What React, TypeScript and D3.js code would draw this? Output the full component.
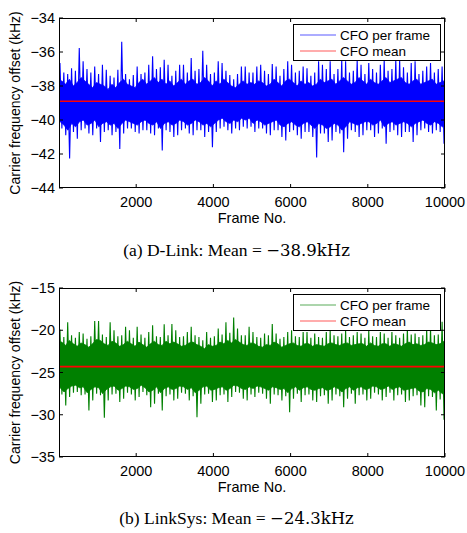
import React from "react";
import * as d3 from "d3";

// ---------- data ----------
// 100 bins of 100 frames each over 0..10000
const binWidth = 100;

// D-Link: per-bin upper / lower extremes (kHz)
const dlinkUpper = [
  -36.65, -37.2, -37.3, -36.95, -37.1, -35.76, -36.55, -37.0, -37.2, -36.85,
  -37.3, -36.75, -37.05, -37.4, -37.5, -37.05, -35.4, -37.3, -37.6, -37.35,
  -36.85, -37.3, -37.2, -36.75, -36.25, -37.0, -36.9, -36.45, -36.75, -37.4,
  -37.1, -36.75, -36.75, -37.2, -36.35, -37.1, -37.0, -35.92, -36.75, -37.3,
  -37.2, -36.55, -36.65, -37.1, -37.35, -37.6, -37.3, -36.85, -36.85, -37.2,
  -37.2, -36.85, -36.75, -37.1, -37.3, -36.7, -36.85, -37.4, -37.0, -36.55,
  -36.75, -37.2, -37.1, -36.85, -36.95, -37.4, -37.2, -36.55, -36.75, -37.0,
  -36.55, -37.3, -37.0, -36.45, -36.55, -37.2, -37.1, -36.45, -36.75, -37.3,
  -36.65, -37.0, -37.2, -36.75, -36.45, -37.1, -37.0, -36.45, -36.45, -36.9,
  -37.2, -36.65, -36.55, -37.3, -37.1, -36.85, -36.65, -37.2, -37.0, -36.85,
];
const dlinkLower = [
  -40.5, -40.9, -42.26, -40.7, -41.1, -40.6, -40.5, -40.8, -40.9, -40.5,
  -41.3, -40.7, -40.6, -40.9, -40.7, -41.7, -40.8, -40.5, -40.5, -40.7,
  -40.8, -40.6, -40.6, -40.8, -40.9, -40.5, -41.8, -40.6, -40.7, -41.0,
  -40.9, -40.6, -40.5, -40.8, -40.9, -40.6, -40.6, -41.0, -40.7, -41.6,
  -40.7, -40.5, -40.4, -40.6, -40.8, -40.5, -40.6, -40.4, -40.5, -40.4,
  -40.7, -40.5, -40.5, -40.8, -40.9, -40.6, -40.6, -41.0, -41.2, -40.7,
  -40.6, -40.9, -41.1, -40.7, -40.7, -41.0, -42.2, -40.8, -40.8, -41.3,
  -41.2, -40.7, -40.8, -41.9, -41.1, -40.6, -40.7, -41.0, -40.9, -40.6,
  -40.6, -41.0, -40.8, -40.5, -41.4, -40.7, -40.6, -40.9, -41.0, -40.7,
  -40.7, -41.3, -40.9, -40.6, -40.5, -40.7, -40.8, -40.6, -40.7, -41.4,
];
// D-Link: per-bin edges of the dense band (kHz)
const dlinkDenseTop = [
  -37.7, -37.9, -37.6, -38.0, -37.8, -37.5, -37.7, -37.9, -38.1, -37.8,
  -37.9, -38.0, -38.2, -37.9, -38.1, -37.8, -37.6, -37.9, -38.0, -38.1,
  -37.8, -37.6, -37.9, -37.7, -37.5, -37.8, -37.6, -37.9, -37.7, -38.0,
  -37.8, -37.6, -37.9, -37.7, -37.6, -37.9, -37.8, -37.5, -37.7, -38.0,
  -37.7, -37.9, -37.6, -37.8, -38.0, -38.1, -37.9, -37.7, -37.9, -37.8,
  -37.9, -37.7, -37.8, -38.0, -37.9, -37.6, -37.8, -38.0, -37.7, -37.6,
  -37.8, -38.0, -37.7, -37.9, -37.8, -38.0, -37.9, -37.6, -37.8, -37.7,
  -37.6, -37.9, -37.7, -37.5, -37.7, -37.9, -37.8, -37.5, -37.7, -37.9,
  -37.6, -37.8, -37.9, -37.7, -37.5, -37.8, -37.7, -37.6, -37.5, -37.8,
  -37.9, -37.7, -37.6, -37.9, -37.8, -37.7, -37.6, -37.9, -37.8, -37.7,
];
const dlinkDenseBottom = [
  -40.1, -40.3, -40.6, -40.2, -40.4, -40.1, -40.0, -40.3, -40.2, -40.0,
  -40.4, -40.2, -40.1, -40.3, -40.2, -40.5, -40.2, -40.0, -40.1, -40.2,
  -40.3, -40.1, -40.0, -40.2, -40.3, -40.1, -40.5, -40.2, -40.1, -40.3,
  -40.2, -40.0, -40.1, -40.3, -40.2, -40.0, -40.1, -40.3, -40.2, -40.4,
  -40.2, -40.0, -39.9, -40.1, -40.2, -40.0, -40.1, -39.9, -40.0, -39.9,
  -40.2, -40.0, -40.1, -40.3, -40.2, -40.1, -40.0, -40.3, -40.4, -40.2,
  -40.1, -40.3, -40.4, -40.2, -40.1, -40.3, -40.5, -40.2, -40.3, -40.5,
  -40.4, -40.2, -40.3, -40.6, -40.4, -40.1, -40.2, -40.3, -40.2, -40.1,
  -40.1, -40.3, -40.2, -40.0, -40.4, -40.2, -40.1, -40.3, -40.2, -40.1,
  -40.2, -40.4, -40.2, -40.1, -40.0, -40.2, -40.3, -40.1, -40.2, -40.4,
];
const dlinkMean = -38.9;

// LinkSys: per-bin upper / lower extremes (kHz)
const linksysUpper = [
  -19.9, -20.8, -19.06, -20.6, -20.9, -20.2, -20.4, -21.0, -20.7, -18.9,
  -18.9, -20.5, -20.8, -19.05, -20.0, -20.7, -20.6, -19.6, -20.0, -20.9,
  -19.6, -20.5, -20.9, -20.2, -19.4, -20.7, -20.8, -19.3, -20.6, -19.25,
  -20.0, -20.8, -20.7, -20.2, -19.6, -20.6, -20.8, -21.2, -20.2, -20.9,
  -20.7, -19.8, -20.5, -19.05, -20.3, -18.5, -19.8, -20.6, -20.6, -19.6,
  -20.2, -20.8, -20.9, -20.4, -20.6, -19.25, -20.4, -21.0, -20.8, -20.2,
  -20.0, -20.7, -20.8, -20.2, -20.2, -20.9, -20.4, -20.8, -20.9, -20.2,
  -20.0, -20.6, -20.7, -20.4, -20.0, -20.8, -20.6, -20.2, -20.4, -20.9,
  -20.0, -20.7, -20.8, -20.2, -20.4, -20.9, -20.2, -20.6, -20.9, -20.4,
  -19.8, -20.5, -20.4, -20.8, -20.6, -19.8, -19.8, -20.6, -20.5, -19.0,
];
const linksysLower = [
  -27.6, -28.9, -27.9, -27.4, -27.3, -27.7, -27.6, -29.5, -28.3, -27.5,
  -27.7, -30.35, -28.3, -27.6, -27.5, -28.5, -28.1, -27.4, -27.6, -28.3,
  -27.9, -27.3, -27.7, -29.1, -28.7, -27.5, -29.5, -27.8, -27.6, -28.3,
  -28.1, -27.4, -27.5, -28.3, -27.8, -30.3, -28.7, -27.6, -27.5, -28.5,
  -28.3, -27.7, -27.6, -28.5, -27.9, -27.3, -27.4, -28.1, -28.3, -27.6,
  -27.9, -27.4, -27.5, -28.1, -28.7, -27.6, -27.7, -28.3, -27.8, -29.7,
  -28.1, -27.5, -28.5, -27.7, -27.6, -28.3, -28.5, -27.8, -27.7, -28.7,
  -28.3, -27.6, -27.8, -29.1, -28.1, -27.5, -28.7, -27.7, -27.6, -28.3,
  -28.1, -27.4, -27.6, -28.3, -27.9, -27.4, -28.3, -27.7, -27.6, -28.5,
  -28.3, -27.8, -27.7, -28.9, -29.1, -27.8, -27.9, -29.5, -28.2, -30.6,
];
// LinkSys: per-bin edges of the dense band (kHz)
const linksysDenseTop = [
  -21.4, -21.8, -21.2, -21.6, -21.9, -21.5, -21.7, -22.0, -21.6, -21.1,
  -21.2, -21.6, -21.8, -21.3, -21.5, -21.9, -21.7, -21.3, -21.6, -21.9,
  -21.4, -21.7, -22.0, -21.6, -21.3, -21.7, -21.8, -21.3, -21.6, -21.4,
  -21.6, -21.9, -21.8, -21.5, -21.4, -21.7, -21.9, -22.2, -21.7, -21.9,
  -21.8, -21.4, -21.6, -21.2, -21.5, -21.1, -21.4, -21.7, -21.8, -21.5,
  -21.6, -21.9, -22.0, -21.7, -21.8, -21.4, -21.6, -22.0, -21.8, -21.6,
  -21.5, -21.8, -21.9, -21.6, -21.6, -21.9, -21.7, -21.8, -21.9, -21.6,
  -21.5, -21.7, -21.8, -21.6, -21.5, -21.8, -21.7, -21.6, -21.6, -21.9,
  -21.5, -21.8, -21.9, -21.6, -21.6, -21.9, -21.6, -21.7, -21.9, -21.6,
  -21.4, -21.7, -21.6, -21.8, -21.7, -21.4, -21.5, -21.7, -21.6, -21.3,
];
const linksysDenseBottom = [
  -26.8, -27.3, -26.9, -26.6, -26.5, -26.8, -26.7, -27.4, -27.0, -26.7,
  -26.8, -27.5, -27.0, -26.7, -26.6, -27.1, -26.9, -26.6, -26.7, -27.0,
  -26.9, -26.5, -26.8, -27.3, -27.1, -26.7, -27.4, -26.9, -26.7, -27.0,
  -26.9, -26.6, -26.7, -27.0, -26.8, -27.4, -27.1, -26.7, -26.6, -27.1,
  -27.0, -26.8, -26.7, -27.1, -26.9, -26.5, -26.6, -26.9, -27.0, -26.7,
  -26.9, -26.6, -26.7, -26.9, -27.1, -26.7, -26.8, -27.0, -26.9, -27.4,
  -26.9, -26.7, -27.1, -26.8, -26.7, -27.0, -27.1, -26.9, -26.8, -27.1,
  -27.0, -26.7, -26.9, -27.3, -26.9, -26.7, -27.1, -26.8, -26.7, -27.0,
  -26.9, -26.6, -26.7, -27.0, -26.9, -26.6, -27.0, -26.8, -26.7, -27.1,
  -27.0, -26.9, -26.8, -27.2, -27.3, -26.9, -27.0, -27.4, -27.1, -27.5,
];
const linksysMean = -24.3;

const xTicks = [2000, 4000, 6000, 8000, 10000];
const dlinkYTicks = [-44, -42, -40, -38, -36, -34];
const linksysYTicks = [-35, -30, -25, -20, -15];
const legendLabels = ["CFO per frame", "CFO mean"];

const captions = [
  { pre: "(a) D-Link: Mean = ", val: "\u221238.9kHz" },
  { pre: "(b) LinkSys: Mean = ", val: "\u221224.3kHz" },
];

// ---------- layout ----------
const W = 467;
const H = 533;
const SANS = "'Liberation Sans', Arial, Helvetica, sans-serif";
const SERIF = "'Liberation Serif', 'Times New Roman', serif";
const MATH = "'DejaVu Serif', 'Liberation Serif', serif";

type PanelProps = {
  id: string;
  top: number;
  bottom: number;
  domain: [number, number];
  yTicks: number[];
  upper: number[];
  lower: number[];
  denseTop: number[];
  denseBottom: number[];
  mean: number;
  color: string;
  caption: { pre: string; val: string };
  captionY: number;
};

const left = 59;
const right = 445;

function fmt(v: number) {
  return v < 0 ? "\u2212" + Math.abs(v) : String(v);
}

function Panel(p: PanelProps) {
  const x = d3.scaleLinear().domain([0, 10000]).range([left, right]);
  const y = d3.scaleLinear().domain(p.domain).range([p.bottom, p.top]);

  // zigzag through per-bin extremes
  const pts: [number, number][] = [];
  p.upper.forEach((u, i) => {
    const b0 = i * binWidth;
    pts.push([b0 + 25, u]);
    pts.push([b0 + 75, p.lower[i]]);
  });
  const line = d3
    .line<[number, number]>()
    .x((d) => x(d[0]))
    .y((d) => y(d[1]));

  // dense band polygon: top edge then bottom edge reversed
  const band: [number, number][] = [];
  band.push([0, p.denseTop[0]]);
  p.denseTop.forEach((v, i) => band.push([i * binWidth + 70, v]));
  band.push([10000, p.denseTop[p.denseTop.length - 1]]);
  band.push([10000, p.denseBottom[p.denseBottom.length - 1]]);
  for (let i = p.denseBottom.length - 1; i >= 0; i--) {
    band.push([i * binWidth + 30, p.denseBottom[i]]);
  }
  band.push([0, p.denseBottom[0]]);
  const bandLine = d3
    .line<[number, number]>()
    .x((d) => x(d[0]))
    .y((d) => y(d[1]))
    .curve(d3.curveLinearClosed);

  const tickLen = 4;
  const clipId = "clip-" + p.id;
  const lx0 = 293;
  const ly0 = p.top + 6;
  const lw = 147;
  const lh = 36;

  return (
    <g>
      <defs>
        <clipPath id={clipId}>
          <rect x={left} y={p.top} width={right - left} height={p.bottom - p.top} />
        </clipPath>
      </defs>
      <g clipPath={`url(#${clipId})`}>
        <path d={bandLine(band) || ""} fill={p.color} stroke={p.color} strokeWidth={0.8} />
        <path d={line(pts) || ""} fill="none" stroke={p.color} strokeWidth={1.1} />
        <line
          x1={x(0)}
          x2={x(10000)}
          y1={y(p.mean)}
          y2={y(p.mean)}
          stroke="#ff0000"
          strokeWidth={1.6}
        />
      </g>
      {/* axes box */}
      <rect
        x={left + 0.5}
        y={p.top + 0.5}
        width={right - left - 1}
        height={p.bottom - p.top - 1}
        fill="none"
        stroke="#000"
        strokeWidth={1}
      />
      {xTicks.map((t) => (
        <g key={"xt" + t}>
          <line x1={x(t)} x2={x(t)} y1={p.bottom} y2={p.bottom - tickLen} stroke="#000" />
          <line x1={x(t)} x2={x(t)} y1={p.top} y2={p.top + tickLen} stroke="#000" />
          <text
            x={x(t)}
            y={p.bottom + 19}
            textAnchor="middle"
            fontFamily={SANS}
            fontSize={14.5}
            fill="#000"
          >
            {t}
          </text>
        </g>
      ))}
      {p.yTicks.map((t) => (
        <g key={"yt" + t}>
          <line x1={left} x2={left + tickLen} y1={y(t)} y2={y(t)} stroke="#000" />
          <line x1={right} x2={right - tickLen} y1={y(t)} y2={y(t)} stroke="#000" />
          <text
            x={left - 4}
            y={y(t) + 5}
            textAnchor="end"
            fontFamily={SANS}
            fontSize={14.5}
            fill="#000"
          >
            {fmt(t)}
          </text>
        </g>
      ))}
      <text
        x={252}
        y={p.bottom + 35}
        textAnchor="middle"
        fontFamily={SANS}
        fontSize={14.5}
        fill="#000"
      >
        Frame No.
      </text>
      <text
        transform={`translate(20,${(p.top + p.bottom) / 2}) rotate(-90)`}
        textAnchor="middle"
        fontFamily={SANS}
        fontSize={14}
        fill="#000"
      >
        Carrier frequency offset (kHz)
      </text>
      {/* legend */}
      <rect
        x={lx0 + 0.5}
        y={ly0 + 0.5}
        width={lw}
        height={lh}
        fill="#fff"
        stroke="#000"
        strokeWidth={1}
      />
      {legendLabels.map((lab, i) => {
        const ly = ly0 + 11 + i * 16;
        return (
          <g key={lab}>
            <line
              x1={300}
              x2={336}
              y1={ly}
              y2={ly}
              stroke={i === 0 ? p.color : "#ff0000"}
              strokeOpacity={0.65}
              strokeWidth={1.2}
            />
            <text x={340} y={ly + 5} fontFamily={SANS} fontSize={13.5} fill="#000">
              {lab}
            </text>
          </g>
        );
      })}
      <text
        x={236.5}
        y={p.captionY}
        textAnchor="middle"
        fontFamily={SERIF}
        fontSize={17.5}
        fill="#000"
      >
        {p.caption.pre}
        <tspan fontFamily={MATH} fontSize={16.5}>
          {p.caption.val}
        </tspan>
      </text>
    </g>
  );
}

export default function App() {
  return (
    <svg
      width={W}
      height={H}
      viewBox={`0 0 ${W} ${H}`}
      style={{ position: "absolute", left: 0, top: 0, background: "#fff" }}
    >
      <rect x={0} y={0} width={W} height={H} fill="#fff" />
      <Panel
        id="a"
        top={18}
        bottom={188}
        domain={[-44, -34]}
        yTicks={dlinkYTicks}
        upper={dlinkUpper}
        lower={dlinkLower}
        denseTop={dlinkDenseTop}
        denseBottom={dlinkDenseBottom}
        mean={dlinkMean}
        color="#0000ff"
        caption={captions[0]}
        captionY={256}
      />
      <Panel
        id="b"
        top={288}
        bottom={457}
        domain={[-35, -15]}
        yTicks={linksysYTicks}
        upper={linksysUpper}
        lower={linksysLower}
        denseTop={linksysDenseTop}
        denseBottom={linksysDenseBottom}
        mean={linksysMean}
        color="#008000"
        caption={captions[1]}
        captionY={524}
      />
    </svg>
  );
}
